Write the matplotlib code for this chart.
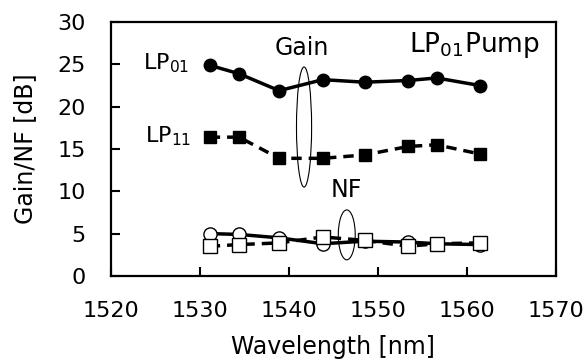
import numpy as np
import matplotlib
matplotlib.use('Agg')
import matplotlib.pyplot as plt
from matplotlib.patches import Ellipse

# wavelengths [nm]
wl = [1531.1, 1534.4, 1538.9, 1543.8, 1548.5, 1553.4, 1556.6, 1561.5]

# gain [dB]
gain_lp01 = [24.9, 23.9, 21.9, 23.2, 22.9, 23.1, 23.4, 22.5]
gain_lp11 = [16.4, 16.4, 13.9, 13.9, 14.3, 15.3, 15.5, 14.4]

# noise figure [dB]
nf_lp01 = [5.0, 4.9, 4.5, 3.8, 4.1, 4.0, 3.8, 3.7]
nf_lp11 = [3.5, 3.7, 3.9, 4.6, 4.2, 3.5, 3.8, 3.9]

plt.rcParams['font.size'] = 16
plt.rcParams['mathtext.default'] = 'regular'

fig = plt.figure(figsize=(5.87, 3.63), dpi=100)
ax = fig.add_axes([0.189, 0.240, 0.758, 0.699])

# NF
ax.plot(wl, nf_lp01, 'k-', lw=2.5, marker='o', ms=9.5, mfc='w', mec='k', mew=1.0, zorder=3)
ax.plot(wl, nf_lp11, 'k--', lw=2.5, marker='s', ms=9.5, mfc='w', mec='k', mew=1.0,
        dashes=(3, 2), zorder=4)

# gain
ax.plot(wl, gain_lp01, 'k-', lw=2.5, marker='o', ms=9, mfc='k', mec='k', zorder=3)
ax.plot(wl, gain_lp11, 'k--', lw=2.5, marker='s', ms=8.5, mfc='k', mec='k',
        dashes=(3, 2), zorder=3)

# ellipses grouping the curves
ax.add_patch(Ellipse((1541.7, 17.6), 1.7, 14.2, fill=False, ec='k', lw=0.8, zorder=5))
ax.add_patch(Ellipse((1546.5, 4.85), 1.9, 5.9, fill=False, ec='k', lw=0.8, zorder=5))

# labels
ax.text(1523.6, 25.2, r'LP$_{01}$', ha='left', va='center', fontsize=16)
ax.text(1523.8, 16.5, r'LP$_{11}$', ha='left', va='center', fontsize=16)
ax.text(1541.5, 26.9, 'Gain', ha='center', va='center', fontsize=17)
ax.text(1546.4, 10.2, 'NF', ha='center', va='center', fontsize=17)
ax.text(1560.8, 27.3, r'LP$_{01}$Pump', ha='center', va='center', fontsize=19)

ax.set_xlim(1520, 1570)
ax.set_ylim(0, 30)
ax.set_xticks(np.arange(1520, 1571, 10))
ax.set_yticks(np.arange(0, 31, 5))
ax.tick_params(direction='in', length=6.5, width=1.5)
ax.tick_params(axis='x', pad=18)
ax.tick_params(axis='y', pad=18)
for s in ax.spines.values():
    s.set_linewidth(1.6)

ax.set_xlabel('Wavelength [nm]', fontsize=17, labelpad=10)
ax.set_ylabel('Gain/NF [dB]', fontsize=17, labelpad=15)

fig.savefig('out.png', dpi=100)
